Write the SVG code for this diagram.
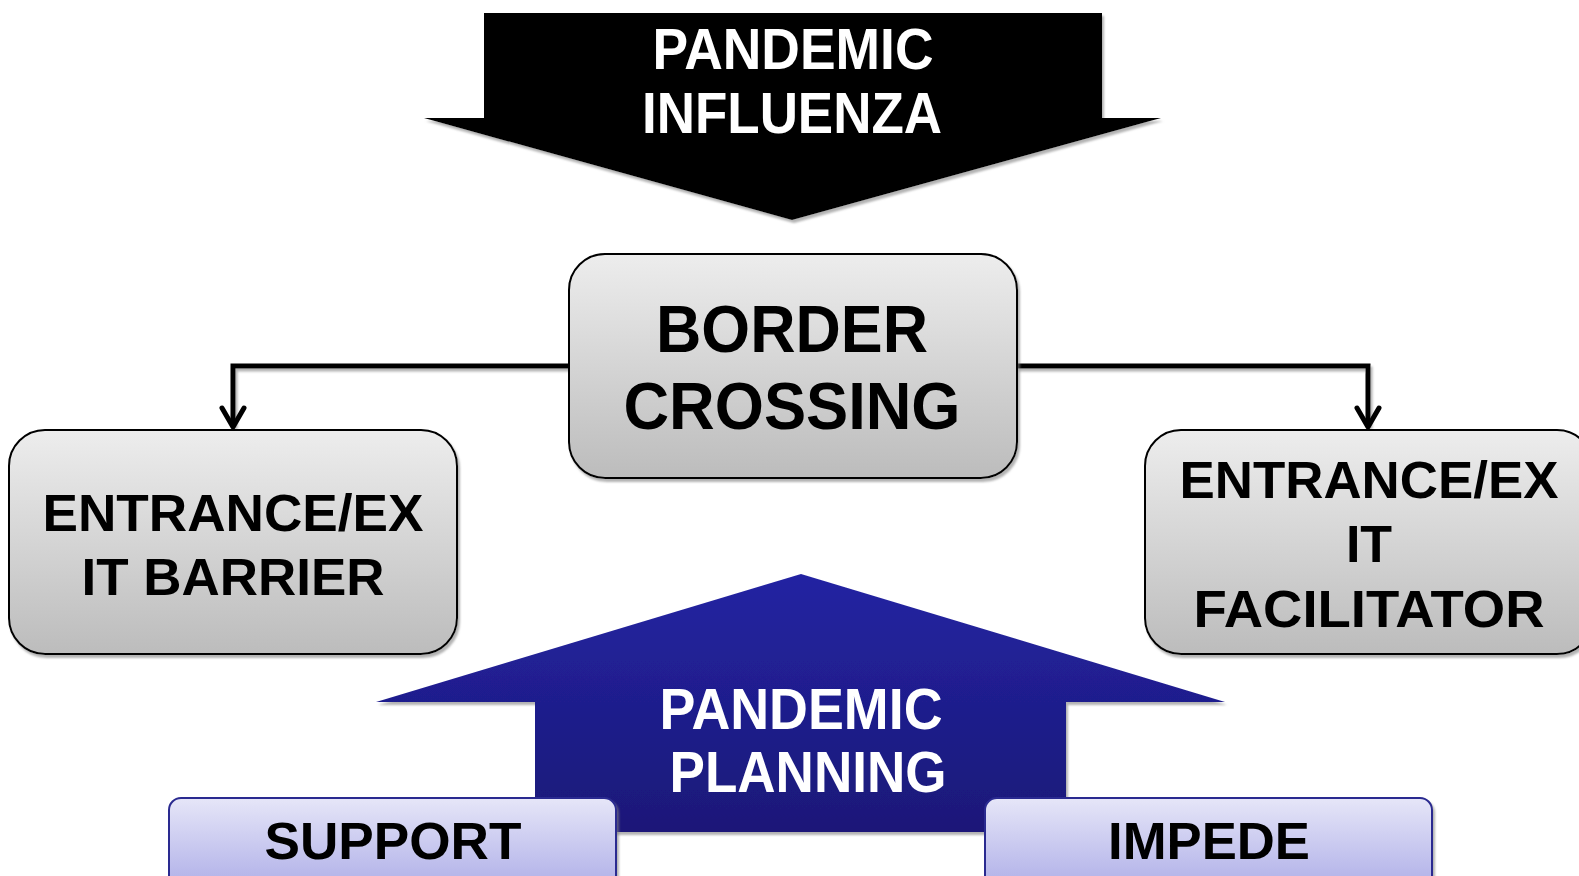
<svg xmlns="http://www.w3.org/2000/svg" width="1579" height="876" viewBox="0 0 1579 876">
<style>
  .t { font-family: "Liberation Sans", Arial, sans-serif; font-weight: bold; text-anchor: middle; }
  .w { fill: #ffffff; }
  .k { fill: #000000; }
  .gbox { fill: url(#gGray); stroke: #000; stroke-width: 2; filter: url(#sh); }
  .pbox { fill: url(#gPurple); stroke: #2a2a90; stroke-width: 2; filter: url(#sh); }
  .conn { fill: none; stroke: #000; stroke-width: 5; filter: url(#sh); }
  .head { fill: none; stroke: #000; stroke-width: 5; stroke-linejoin: round; stroke-linecap: round; }
</style>
<defs>
  <linearGradient id="gGray" x1="0" y1="0" x2="0" y2="1">
    <stop offset="0" stop-color="#ededed"/>
    <stop offset="1" stop-color="#bcbcbc"/>
  </linearGradient>
  <linearGradient id="gPurple" x1="0" y1="0" x2="0" y2="1">
    <stop offset="0" stop-color="#e6e6f8"/>
    <stop offset="1" stop-color="#a9a9e6"/>
  </linearGradient>
  <linearGradient id="gBlue" x1="0" y1="0" x2="0" y2="1">
    <stop offset="0" stop-color="#2424a2"/>
    <stop offset="1" stop-color="#1a1878"/>
  </linearGradient>
  <filter id="sh" x="-5%" y="-5%" width="112%" height="115%">
    <feDropShadow dx="2" dy="3" stdDeviation="1" flood-color="#808080" flood-opacity="0.6"/>
  </filter>
</defs>

<g id="pandemic-influenza">
  <polygon points="484,13 1102,13 1102,118 1161,118 792,220 424,118 484,118" fill="#000" filter="url(#sh)"/>
  <text class="t w" x="793" y="69" font-size="58" textLength="281" lengthAdjust="spacingAndGlyphs">PANDEMIC</text>
  <text class="t w" x="792" y="133" font-size="58" textLength="300" lengthAdjust="spacingAndGlyphs">INFLUENZA</text>
</g>

<g id="connectors">
  <polyline class="conn" points="569,366 233,366 233,426"/>
  <polyline class="head" points="222,408 233,427 244,408"/>
  <polyline class="conn" points="1017,366 1368,366 1368,426"/>
  <polyline class="head" points="1357,408 1368,427 1379,408"/>
</g>

<g id="border-crossing">
  <rect class="gbox" x="569" y="254" width="448" height="224" rx="36"/>
  <text class="t k" x="792" y="352" font-size="67" textLength="272" lengthAdjust="spacingAndGlyphs">BORDER</text>
  <text class="t k" x="792" y="429" font-size="67" textLength="337" lengthAdjust="spacingAndGlyphs">CROSSING</text>
</g>

<g id="barrier">
  <rect class="gbox" x="9" y="430" width="448" height="224" rx="36"/>
  <text class="t k" x="233" y="531" font-size="52" textLength="381" lengthAdjust="spacingAndGlyphs">ENTRANCE/EX</text>
  <text class="t k" x="233" y="595" font-size="52" textLength="303" lengthAdjust="spacingAndGlyphs">IT BARRIER</text>
</g>

<g id="facilitator">
  <rect class="gbox" x="1145" y="430" width="448" height="224" rx="36"/>
  <text class="t k" x="1369" y="498" font-size="52" textLength="379" lengthAdjust="spacingAndGlyphs">ENTRANCE/EX</text>
  <text class="t k" x="1369" y="562" font-size="52">IT</text>
  <text class="t k" x="1369" y="627" font-size="52" textLength="351" lengthAdjust="spacingAndGlyphs">FACILITATOR</text>
</g>

<g id="pandemic-planning">
  <polygon points="801,574 1225,702 1066,702 1066,832 535,832 535,702 376,702" fill="url(#gBlue)" filter="url(#sh)"/>
  <text class="t w" x="801" y="729" font-size="57" textLength="283" lengthAdjust="spacingAndGlyphs">PANDEMIC</text>
  <text class="t w" x="808" y="792" font-size="57" textLength="277" lengthAdjust="spacingAndGlyphs">PLANNING</text>
</g>

<g id="support">
  <rect class="pbox" x="169" y="798" width="447" height="100" rx="12"/>
  <text class="t k" x="393" y="859" font-size="52" textLength="257" lengthAdjust="spacingAndGlyphs">SUPPORT</text>
</g>

<g id="impede">
  <rect class="pbox" x="985" y="798" width="447" height="100" rx="12"/>
  <text class="t k" x="1209" y="859" font-size="52" textLength="202" lengthAdjust="spacingAndGlyphs">IMPEDE</text>
</g>
</svg>
